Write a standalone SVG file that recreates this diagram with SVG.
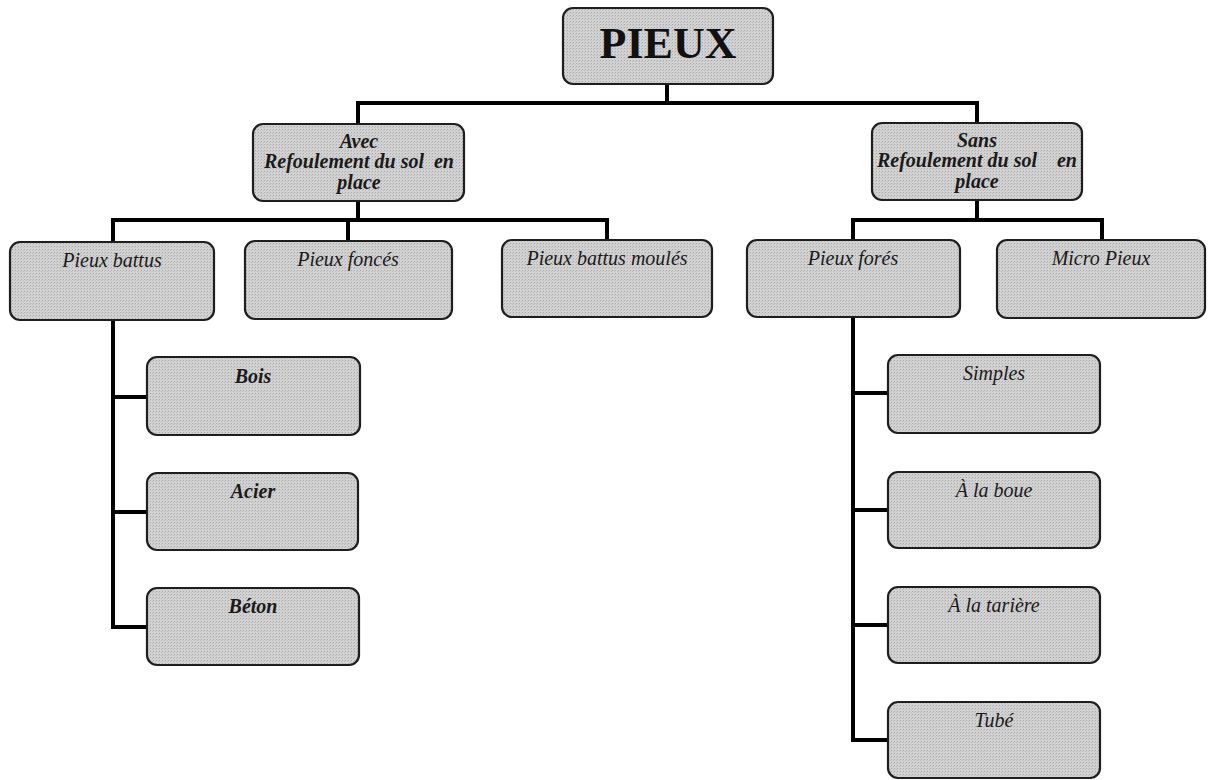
<svg xmlns="http://www.w3.org/2000/svg" width="1214" height="780" viewBox="0 0 1214 780">
<defs>
<pattern id="stip" width="3" height="3" patternUnits="userSpaceOnUse">
<rect width="3" height="3" fill="#d2d2d2"/>
<rect width="1" height="1" fill="#a9a9a9"/>
<rect x="2" y="1" width="1" height="1" fill="#bdbdbd"/>
</pattern>
</defs>
<style>
.box{fill:url(#stip);stroke:#1e1e1e;stroke-width:2.2}
.t{font-family:"Liberation Serif","Times New Roman",serif;font-style:italic;font-size:20px;fill:#1a1a1a;text-anchor:middle}
.b{font-weight:bold}
.root{font-family:"Liberation Serif","Times New Roman",serif;font-weight:bold;font-size:44px;fill:#111;text-anchor:middle}
.c{fill:none;stroke:#000;stroke-width:4;stroke-linecap:square;stroke-linejoin:miter}
</style>
<rect width="1214" height="780" fill="#fff"/>
<g id="connectors">
<path class="c" d="M667 84V103M358 103H977M358 103V124M977 103V123"/>
<path class="c" d="M358 201V220M113 220H607M113 220V242M348 220V241M607 220V240"/>
<path class="c" d="M977 200V220M853 220H1102M853 220V240M1102 220V240"/>
<path class="c" d="M113 320V627M113 397H147M113 512H147M113 627H147"/>
<path class="c" d="M853 317V740M853 393H888M853 510H888M853 625H888M853 740H888"/>
</g>
<g id="n-pieux"><rect class="box" x="563" y="8" width="210" height="76" rx="10"/><text class="root" x="668" y="58">PIEUX</text></g>
<g id="n-avec"><rect class="box" x="253" y="124" width="211" height="77" rx="10"/>
<text class="t b" font-size="17" x="359" y="148">Avec</text>
<text class="t b" font-size="17" x="359" y="168" xml:space="preserve">Refoulement du sol  en</text>
<text class="t b" font-size="17" x="359" y="189">place</text></g>
<g id="n-sans"><rect class="box" x="872" y="123" width="210" height="77" rx="10"/>
<text class="t b" font-size="17" x="977" y="147">Sans</text>
<text class="t b" font-size="17" x="977" y="167" xml:space="preserve">Refoulement du sol    en</text>
<text class="t b" font-size="17" x="977" y="188">place</text></g>
<g id="n-battus"><rect class="box" x="10" y="242" width="204" height="78" rx="10"/><text class="t" x="112" y="267">Pieux battus</text></g>
<g id="n-fonces"><rect class="box" x="245" y="241" width="207" height="78" rx="10"/><text class="t" x="348" y="266">Pieux foncés</text></g>
<g id="n-moules"><rect class="box" x="502" y="240" width="210" height="77" rx="10"/><text class="t" x="607" y="265">Pieux battus moulés</text></g>
<g id="n-fores"><rect class="box" x="747" y="240" width="213" height="77" rx="10"/><text class="t" x="853" y="265">Pieux forés</text></g>
<g id="n-micro"><rect class="box" x="997" y="240" width="208" height="78" rx="10"/><text class="t" x="1101" y="265">Micro Pieux</text></g>
<g id="n-bois"><rect class="box" x="147" y="357" width="213" height="78" rx="10"/><text class="t b" x="253" y="383">Bois</text></g>
<g id="n-acier"><rect class="box" x="147" y="473" width="211" height="77" rx="10"/><text class="t b" x="253" y="498">Acier</text></g>
<g id="n-beton"><rect class="box" x="147" y="588" width="212" height="77" rx="10"/><text class="t b" x="253" y="613">Béton</text></g>
<g id="n-simples"><rect class="box" x="888" y="355" width="212" height="78" rx="10"/><text class="t" x="994" y="380">Simples</text></g>
<g id="n-boue"><rect class="box" x="888" y="472" width="212" height="76" rx="10"/><text class="t" x="994" y="497">À la boue</text></g>
<g id="n-tariere"><rect class="box" x="888" y="587" width="212" height="76" rx="10"/><text class="t" x="994" y="612">À la tarière</text></g>
<g id="n-tube"><rect class="box" x="888" y="702" width="212" height="76" rx="10"/><text class="t" x="994" y="727">Tubé</text></g>
</svg>
